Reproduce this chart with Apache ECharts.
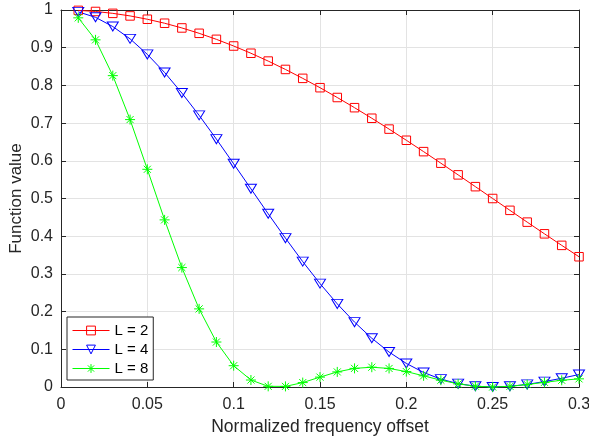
<!DOCTYPE html>
<html>
<head>
<meta charset="utf-8">
<script src="https://cdn.jsdelivr.net/npm/echarts@6/dist/echarts.min.js"></script>
<style>
  html, body { margin: 0; padding: 0; background: #ffffff; }
  #chart { width: 589px; height: 441px; }
</style>
</head>
<body>
<div id="chart"></div>
<script>
// Normalized frequency offset samples
const freqOffset = [0.01, 0.02, 0.03, 0.04, 0.05, 0.06, 0.07, 0.08, 0.09, 0.10,
                    0.11, 0.12, 0.13, 0.14, 0.15, 0.16, 0.17, 0.18, 0.19, 0.20,
                    0.21, 0.22, 0.23, 0.24, 0.25, 0.26, 0.27, 0.28, 0.29, 0.30];

// Function value for each L
const valuesL2 = [0.9990, 0.9961, 0.9911, 0.9843, 0.9755, 0.9649, 0.9524, 0.9382, 0.9222, 0.9045,
                  0.8853, 0.8645, 0.8423, 0.8187, 0.7939, 0.7679, 0.7409, 0.7129, 0.6841, 0.6545,
                  0.6243, 0.5937, 0.5627, 0.5314, 0.5000, 0.4686, 0.4373, 0.4063, 0.3757, 0.3455];
const valuesL4 = [0.9950, 0.9806, 0.9561, 0.9235, 0.8823, 0.8342, 0.7797, 0.7206, 0.6575, 0.5920,
                  0.5257, 0.4594, 0.3948, 0.3326, 0.2743, 0.2205, 0.1720, 0.1293, 0.0927, 0.0625,
                  0.0386, 0.0208, 0.0089, 0.0021, 0.0000, 0.0019, 0.0069, 0.0143, 0.0232, 0.0330];
const valuesL8 = [0.9792, 0.9208, 0.8259, 0.7093, 0.5775, 0.4433, 0.3168, 0.2072, 0.1193, 0.0565,
                  0.0185, 0.0018, 0.0016, 0.0117, 0.0262, 0.0400, 0.0494, 0.0525, 0.0492, 0.0409,
                  0.0296, 0.0180, 0.0083, 0.0021, 0.0000, 0.0018, 0.0065, 0.0123, 0.0178, 0.0216];

const seriesNames = ['L = 2', 'L = 4', 'L = 8'];
const xAxisTitle = 'Normalized frequency offset';
const yAxisTitle = 'Function value';

const pairs = vals => freqOffset.map((x, i) => [x, vals[i]]);

const axisInk = '#262626';
const gridInk = '#e3e3e3';
const fontFamily = '"Liberation Sans", Arial, Helvetica, sans-serif';

const symbolTriangleDown = 'path://M0,0 L12,0 L6,10 Z';
const symbolAsterisk = 'path://M5,0 L5,10 M0,5 L10,5 M1.46,1.46 L8.54,8.54 M8.54,1.46 L1.46,8.54';

function lineSeries(name, vals, color, symbol, size) {
  return {
    name: name,
    type: 'line',
    data: pairs(vals),
    xAxisIndex: 0,
    yAxisIndex: 0,
    symbol: symbol,
    symbolSize: size,
    showAllSymbol: true,
    smooth: false,
    animation: false,
    lineStyle: { color: color, width: 1 },
    itemStyle: { color: 'rgba(0,0,0,0)', borderColor: color, borderWidth: 1 },
    emphasis: { disabled: true }
  };
}

const chart = echarts.init(document.getElementById('chart'), null, { renderer: 'canvas' });

const tickFmt = v => String(+v.toFixed(2));

chart.setOption({
  backgroundColor: '#ffffff',
  animation: false,
  textStyle: { fontFamily: fontFamily },
  grid: { left: 61, right: 10, top: 10, bottom: 54, containLabel: false, outerBoundsMode: 'none' },
  legend: {
    data: seriesNames,
    orient: 'vertical',
    left: 67,
    top: 317,
    itemWidth: 37,
    itemHeight: 11,
    itemGap: 4,
    padding: [6, 5, 4, 5],
    borderColor: axisInk,
    borderWidth: 1,
    backgroundColor: '#ffffff',
    borderRadius: 0,
    lineStyle: { width: 1 },
    itemStyle: { borderWidth: 1 },
    textStyle: { fontSize: 15, color: '#000000', fontFamily: fontFamily },
    selectedMode: false
  },
  xAxis: [{
    type: 'value',
    min: 0, max: 0.3, interval: 0.05,
    position: 'bottom',
    name: xAxisTitle,
    nameLocation: 'middle',
    nameGap: 31,
    nameTextStyle: { fontSize: 17.5, color: axisInk, fontFamily: fontFamily },
    axisLine: { show: true, onZero: false, lineStyle: { color: axisInk, width: 1 } },
    axisTick: { show: true, inside: true, length: 5, lineStyle: { color: axisInk } },
    axisLabel: { fontSize: 16, color: axisInk, margin: 10, formatter: tickFmt, fontFamily: fontFamily },
    splitLine: { show: true, lineStyle: { color: gridInk, width: 1 } }
  }, {
    type: 'value',
    min: 0, max: 0.3, interval: 0.05,
    position: 'top',
    axisLine: { show: true, onZero: false, lineStyle: { color: axisInk, width: 1 } },
    axisTick: { show: true, inside: true, length: 5, lineStyle: { color: axisInk } },
    axisLabel: { show: false },
    splitLine: { show: false }
  }],
  yAxis: [{
    type: 'value',
    min: 0, max: 1, interval: 0.1,
    position: 'left',
    name: yAxisTitle,
    nameLocation: 'middle',
    nameGap: 36,
    nameMoveOverlap: false,
    nameRotate: 90,
    nameTextStyle: { fontSize: 17, color: axisInk, fontFamily: fontFamily },
    axisLine: { show: true, onZero: false, lineStyle: { color: axisInk, width: 1 } },
    axisTick: { show: true, inside: true, length: 5, lineStyle: { color: axisInk } },
    axisLabel: { fontSize: 16, color: axisInk, margin: 8, formatter: tickFmt, fontFamily: fontFamily },
    splitLine: { show: true, lineStyle: { color: gridInk, width: 1 } }
  }, {
    type: 'value',
    min: 0, max: 1, interval: 0.1,
    position: 'right',
    axisLine: { show: true, onZero: false, lineStyle: { color: axisInk, width: 1 } },
    axisTick: { show: true, inside: true, length: 5, lineStyle: { color: axisInk } },
    axisLabel: { show: false },
    splitLine: { show: false }
  }],
  series: [
    lineSeries(seriesNames[0], valuesL2, '#ff0000', 'rect', 8.5),
    lineSeries(seriesNames[1], valuesL4, '#0000ff', symbolTriangleDown, [11, 9]),
    lineSeries(seriesNames[2], valuesL8, '#00ff00', symbolAsterisk, 10)
  ]
});
</script>
</body>
</html>
